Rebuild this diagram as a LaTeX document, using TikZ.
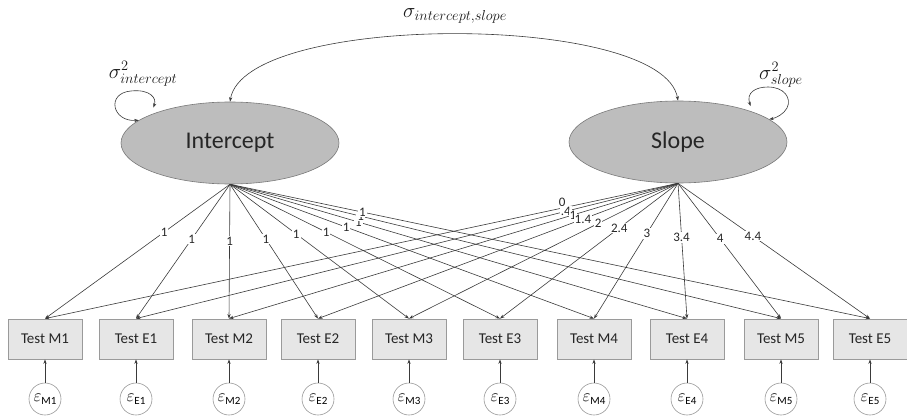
\documentclass[tikz,border=0pt]{standalone}
\usepackage{fontspec}
\setmainfont{Carlito}
\usetikzlibrary{shapes.geometric,arrows.meta}
\definecolor{latentfill}{HTML}{BDBDBD}
\definecolor{latentedge}{HTML}{7A7A7A}
\definecolor{boxfill}{HTML}{E6E6E6}
\definecolor{boxedge}{HTML}{9A9A9A}
\definecolor{ink}{HTML}{3A3A3A}
\tikzset{
  latent/.style={ellipse, draw=latentedge, fill=latentfill, line width=0.6pt,
    minimum width=218pt, minimum height=82pt, inner sep=0pt,
    font=\fontsize{24}{24}\selectfont, text=black!85},
  observed/.style={rectangle, draw=boxedge, fill=boxfill, line width=0.8pt,
    minimum width=74pt, minimum height=40pt, inner sep=0pt,
    font=\fontsize{15}{15}\selectfont, text=black!85},
  residual/.style={circle, draw=boxedge, fill=white, line width=0.6pt,
    minimum size=32pt, inner sep=0pt},
  tip/.style={-{Stealth[length=4.5pt,width=3.2pt]}},
  twotip/.style={{Stealth[length=4.5pt,width=3.2pt]}-{Stealth[length=4.5pt,width=3.2pt]}},
  regpath/.style={draw=ink, line width=0.6pt},
  coef/.style={fill=white, inner sep=1pt, font=\fontsize{13}{13}\selectfont, text=black!85},
  varlab/.style={font=\fontsize{20}{20}\selectfont, text=black!90},
}
\begin{document}
\begin{tikzpicture}[x=1pt,y=-1pt]
\useasboundingbox (0,0) rectangle (907,417);

% latent growth factors
\node[latent] (int) at (230,143) {Intercept};
\node[latent] (slp) at (678,142) {Slope};

% observed tests with their residuals
\foreach \tid/\xx in {M1/45, E1/136, M2/229, E2/318, M3/409, E3/500, M4/594, E4/687, M5/781, E5/870} {
  \node[observed] (T\tid) at (\xx,339) {Test \tid};
  \node[residual] (e\tid) at (\xx,399)
    {{\fontsize{17}{17}\selectfont$\varepsilon$}\raisebox{-3pt}{\fontsize{11}{11}\selectfont\tid}};
  \draw[regpath,tip] (e\tid) -- (T\tid);
}

% intercept loadings (all fixed to 1)
\foreach \tid/\p in {M1/.356, E1/.407, M2/.422, E2/.407, M3/.370, E3/.356, M4/.319, E4/.281, M5/.237, E5/.207} {
  \draw[regpath,tip] (int.south) -- node[coef,pos=\p] {1} (T\tid.north);
}

% slope loadings (time scores)
\draw[regpath,tip] (slp.south) -- node[coef,pos=.183,anchor=south,fill=none] {0} (TM1.north);
\foreach \tid/\p/\v in {E1/.207/.4, M2/.234/1, E2/.264/1.4, M3/.297/2, E3/.33/2.4, M4/.37/3, E4/.40/3.4, M5/.41/4, E5/.39/4.4} {
  \draw[regpath,tip] (slp.south) -- node[coef,pos=\p] {\v} (T\tid.north);
}

% covariance between intercept and slope
\draw[regpath,twotip] (int.north) .. controls (245,12) and (663,12) .. (slp.north);
\node[varlab] (covlab) at (455,16) {$\sigma_{intercept,slope}$};

% variances
\draw[regpath,twotip] (int.166) .. controls (112,122) and (106,93) .. (131,91)
  .. controls (150,89) and (157,98) .. ([yshift=6pt]int.159);
\node[varlab] (ivar) at (143,74) {$\sigma^2_{intercept}$};

\draw[regpath,twotip] ([yshift=5pt]slp.23) .. controls (746,93) and (755,87) .. (768,87)
  .. controls (784,87) and (792,98) .. (787,108) .. controls (784,114) and (776,118) .. (slp.14);
\node[varlab] (svar) at (781,75) {$\sigma^2_{slope}$};
\end{tikzpicture}
\end{document}
